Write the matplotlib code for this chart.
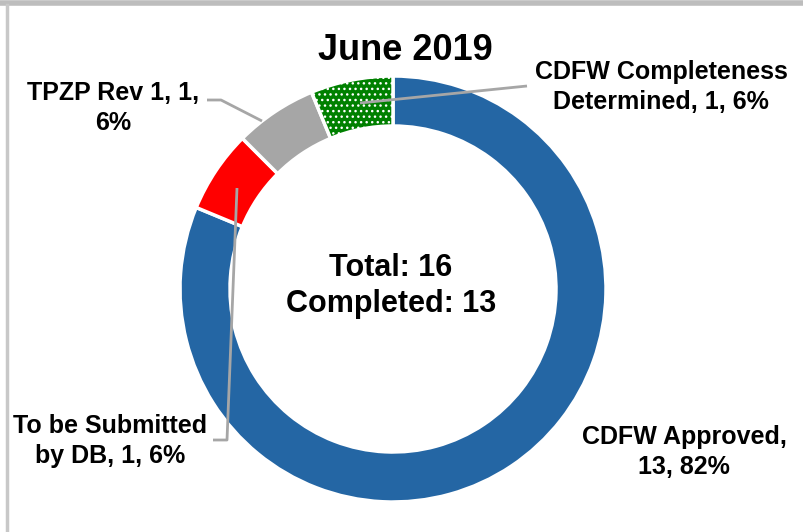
import matplotlib
matplotlib.use('Agg')
import matplotlib.pyplot as plt

# data
labels = ['CDFW Approved', 'To be Submitted by DB', 'TPZP Rev 1', 'CDFW Completeness Determined']
counts = [13, 1, 1, 1]
percents = [82, 6, 6, 6]   # as printed on the chart
colors = ['#2466A4', '#FF0000', '#A6A6A6', '#008000']
title = 'June 2019'
center_text = 'Total: 16\nCompleted: 13'

plt.rcParams['font.family'] = ['Liberation Sans Narrow', 'Liberation Sans', 'DejaVu Sans']
plt.rcParams['font.weight'] = 'bold'
plt.rcParams['hatch.color'] = 'white'
plt.rcParams['hatch.linewidth'] = 1.0

fig = plt.figure(figsize=(8.04, 5.32), dpi=100)
ax = fig.add_axes([0, 0, 1, 1])

# pixel coordinates, y downwards (so counterclock in data = clockwise on screen)
wedges, _ = ax.pie(counts, colors=colors, startangle=-90, counterclock=True,
                   center=(393, 289), radius=213,
                   wedgeprops=dict(width=50, edgecolor='white', linewidth=2.5))
wedges[3].set_hatch('...')

ax.set_xlim(0, 804)
ax.set_ylim(532, 0)
ax.axis('off')

txt = dict(ha='center', va='center', fontweight='bold', color='black')
ax.text(405, 50, title, fontsize=26, **txt)
ax.text(391, 286, center_text, fontsize=22, linespacing=1.3, **txt)

ax.text(684, 452, f'{labels[0]},\n{counts[0]}, {percents[0]}%', fontsize=18, linespacing=1.35, **txt)
ax.text(110, 441, f'To be Submitted\nby DB, {counts[1]}, {percents[1]}%', fontsize=18, linespacing=1.35, **txt)
ax.text(113, 108, f'{labels[2]}, {counts[2]},\n{percents[2]}%', fontsize=18, linespacing=1.35, **txt)
ax.text(661, 87, f'CDFW Completeness\nDetermined, {counts[3]}, {percents[3]}%', fontsize=18, linespacing=1.35, **txt)

# leader lines
lc = dict(color='#A6A6A6', lw=2, solid_capstyle='butt')
ax.plot([360, 527], [103, 86], **lc)
ax.plot([207, 221, 262], [100, 100, 121], **lc)
ax.plot([237, 227, 213], [188, 440, 440], **lc)

# outer frame
ax.plot([0, 804], [3, 3], color='#BDBDBD', lw=4, clip_on=False)
ax.plot([7, 7], [5, 532], color='#C8C8C8', lw=2.5, clip_on=False)

fig.savefig('out.png', dpi=100)
